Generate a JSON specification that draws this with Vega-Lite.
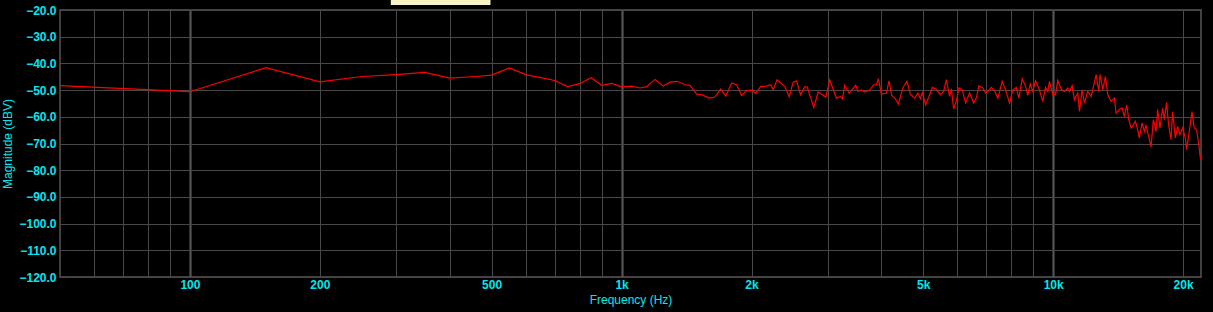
{
  "$schema": "https://vega.github.io/schema/vega-lite/v6.json",
  "autosize": "none",
  "padding": {"left": 60, "top": 10, "right": 12, "bottom": 35},
  "width": 1141,
  "height": 267,
  "background": "#000000",
  "config": {
    "view": {"stroke": "#555555", "strokeWidth": 1.5, "fill": "#000000"},
    "axis": {
      "labelFont": "Liberation Sans",
      "titleFont": "Liberation Sans",
      "labelColor": "#00e8f0",
      "titleColor": "#00e8f0",
      "labelFontSize": 12,
      "labelFontWeight": "bold",
      "titleFontSize": 12,
      "titleFontWeight": "normal",
      "domain": false,
      "ticks": false,
      "gridColor": "#484848",
      "gridOpacity": 1
    }
  },
  "encoding": {
    "x": {
      "field": "f", "type": "quantitative",
      "scale": {"type": "log", "domain": [50, 22000]},
      "axis": {
        "title": "Frequency (Hz)",
        "values": [60,70,80,90,100,200,300,400,500,600,700,800,900,1000,2000,3000,4000,5000,6000,7000,8000,9000,10000,20000],
        "labelExpr": "indexof([100,200,500,1000,2000,5000,10000,20000], datum.value) >= 0 ? (datum.value >= 1000 ? (datum.value/1000) + 'k' : '' + datum.value) : ''",
        "labelPadding": 2,
        "titlePadding": 4,
        "labelFlush": false,
        "labelOverlap": false,
        "gridWidth": {"condition": {"test": "indexof([100,1000,10000], datum.value) >= 0", "value": 2.2}, "value": 1},
        "gridColor": {"condition": {"test": "indexof([100,1000,10000], datum.value) >= 0", "value": "#555555"}, "value": "#484848"}
      }
    },
    "y": {
      "field": "db", "type": "quantitative",
      "scale": {"domain": [-120, -20]},
      "axis": {
        "title": "Magnitude (dBV)",
        "values": [-120,-110,-100,-90,-80,-70,-60,-50,-40,-30,-20],
        "format": ".1f",
        "labelPadding": 4,
        "labelOverlap": false,
        "labelFlush": false,
        "titlePadding": 4,
        "titleFontSize": 12,
        "gridWidth": 1
      }
    }
  },
  "layer": [
    {
      "data": {"values": [
        {"f":50,"db":-48.3},{"f":100,"db":-50.6},{"f":150,"db":-41.6},{"f":200,"db":-46.9},{"f":250,"db":-44.9},{"f":300,"db":-44.2},{"f":350,"db":-43.4},{"f":400,"db":-45.5},{"f":450,"db":-45.0},{"f":500,"db":-44.4},{"f":550,"db":-41.7},{"f":600,"db":-44.2},{"f":650,"db":-45.3},{"f":700,"db":-46.4},{"f":750,"db":-48.7},{"f":800,"db":-47.6},{"f":850,"db":-45.4},{"f":900,"db":-48.2},{"f":949,"db":-47.5},{"f":1001,"db":-48.8},{"f":1056,"db":-48.5},{"f":1104,"db":-49.2},{"f":1144,"db":-48.7},{"f":1195,"db":-46.0},{"f":1249,"db":-48.5},{"f":1295,"db":-47.0},{"f":1346,"db":-46.7},{"f":1403,"db":-48.0},{"f":1440,"db":-48.2},{"f":1493,"db":-51.5},{"f":1533,"db":-51.7},{"f":1597,"db":-53.0},{"f":1646,"db":-52.6},{"f":1696,"db":-49.6},{"f":1745,"db":-52.2},{"f":1799,"db":-47.3},{"f":1848,"db":-48.0},{"f":1897,"db":-52.0},{"f":1949,"db":-50.2},{"f":2001,"db":-50.0},{"f":2047,"db":-51.2},{"f":2099,"db":-48.7},{"f":2168,"db":-48.5},{"f":2214,"db":-48.0},{"f":2245,"db":-49.7},{"f":2293,"db":-46.1},{"f":2389,"db":-48.7},{"f":2445,"db":-52.5},{"f":2498,"db":-47.0},{"f":2544,"db":-46.5},{"f":2598,"db":-51.7},
        {"f":2658,"db":-48.8},{"f":2691,"db":-48.8},{"f":2789,"db":-56.5},{"f":2854,"db":-50.7},{"f":2973,"db":-52.6},{"f":3036,"db":-46.2},{"f":3147,"db":-53.0},{"f":3215,"db":-52.4},{"f":3249,"db":-53.2},{"f":3289,"db":-48.2},{"f":3366,"db":-51.2},{"f":3488,"db":-48.2},{"f":3531,"db":-50.5},{"f":3595,"db":-49.9},{"f":3659,"db":-50.7},{"f":3758,"db":-50.0},{"f":3839,"db":-48.0},{"f":3895,"db":-48.0},{"f":3936,"db":-45.7},{"f":3999,"db":-51.5},{"f":4107,"db":-51.2},{"f":4164,"db":-46.5},{"f":4225,"db":-52.0},{"f":4300,"db":-53.0},{"f":4379,"db":-55.2},{"f":4487,"db":-49.0},{"f":4584,"db":-46.7},{"f":4667,"db":-51.5},{"f":4776,"db":-53.0},{"f":4861,"db":-51.2},{"f":4923,"db":-53.2},{"f":4976,"db":-51.0},{"f":5064,"db":-55.5},{"f":5154,"db":-52.5},{"f":5248,"db":-49.0},{"f":5361,"db":-49.7},{"f":5476,"db":-51.7},{"f":5574,"db":-50.5},{"f":5655,"db":-46.1},{"f":5754,"db":-52.4},{"f":5808,"db":-49.5},{"f":5879,"db":-57.0},{"f":5964,"db":-54.2},{"f":6047,"db":-49.2},{"f":6157,"db":-49.9},{"f":6268,"db":-54.8},{"f":6402,"db":-51.0},{"f":6541,"db":-54.8},{"f":6635,"db":-53.0},{"f":6727,"db":-48.4},
        {"f":6872,"db":-49.2},{"f":6972,"db":-51.1},{"f":7058,"db":-50.5},{"f":7186,"db":-49.0},{"f":7314,"db":-50.2},{"f":7443,"db":-53.0},{"f":7620,"db":-46.7},{"f":7755,"db":-49.9},{"f":7922,"db":-54.8},{"f":8062,"db":-49.9},{"f":8211,"db":-49.0},{"f":8325,"db":-53.0},{"f":8477,"db":-45.7},{"f":8627,"db":-48.6},{"f":8733,"db":-52.0},{"f":8847,"db":-47.7},{"f":8969,"db":-50.5},{"f":9099,"db":-46.5},{"f":9262,"db":-49.2},{"f":9461,"db":-54.2},{"f":9598,"db":-49.0},{"f":9716,"db":-50.5},
        {"f":9804,"db":-46.7},{"f":9979,"db":-51.7},{"f":10123,"db":-51.7},{"f":10247,"db":-46.4},{"f":10435,"db":-49.6},{"f":10619,"db":-50.5},{"f":10808,"db":-49.2},{"f":10905,"db":-50.5},{"f":11063,"db":-48.4},{"f":11200,"db":-53.6},{"f":11399,"db":-51.1},{"f":11502,"db":-58.0},{"f":11670,"db":-49.9},{"f":11814,"db":-54.8},{"f":12023,"db":-50.5},{"f":12244,"db":-52.4},{"f":12576,"db":-44.2},{"f":12751,"db":-50.5},{"f":12846,"db":-44.2},{"f":13025,"db":-49.9},{"f":13213,"db":-44.9},{"f":13376,"db":-51.7},{"f":13621,"db":-54.2},{"f":13862,"db":-53.0},{"f":13987,"db":-58.6},{"f":14237,"db":-57.3},{"f":14442,"db":-56.7},{"f":14620,"db":-59.9},{"f":14801,"db":-55.5},{"f":14959,"db":-60.8},{"f":15150,"db":-64.2},{"f":15338,"db":-63.0},{"f":15501,"db":-61.7},{"f":15692,"db":-64.8},{"f":15834,"db":-67.9},{"f":16065,"db":-62.3},{"f":16262,"db":-65.5},{"f":16409,"db":-63.0},{"f":16640,"db":-67.3},{"f":16852,"db":-71.3},{"f":17060,"db":-61.1},{"f":17309,"db":-65.5},{"f":17457,"db":-57.3},{"f":17680,"db":-64.2},{"f":17928,"db":-56.7},{"f":18090,"db":-61.1},{"f":18313,"db":-54.6},{"f":18508,"db":-63.0},{"f":18748,"db":-68.6},{"f":18908,"db":-58.0},{"f":19185,"db":-67.9},{"f":19420,"db":-63.6},{"f":19668,"db":-66.7},{"f":19942,"db":-64.2},{"f":20233,"db":-67.9},{"f":20373,"db":-72.3},{"f":20666,"db":-65.5},{"f":20968,"db":-58.0},{"f":21224,"db":-64.2},{"f":21485,"db":-64.8},{"f":21714,"db":-69.8},{"f":21950,"db":-76.1}
      ]},
      "mark": {"type": "line", "color": "#ff0000", "strokeWidth": 1.2, "clip": true}
    },
    {
      "data": {"values": [{"f": 292, "f2": 497, "db": -16.0, "db2": -18.1}]},
      "mark": {"type": "rect", "color": "#f7f3c6", "clip": false},
      "encoding": {
        "x2": {"field": "f2"},
        "y2": {"field": "db2"}
      }
    }
  ]
}
